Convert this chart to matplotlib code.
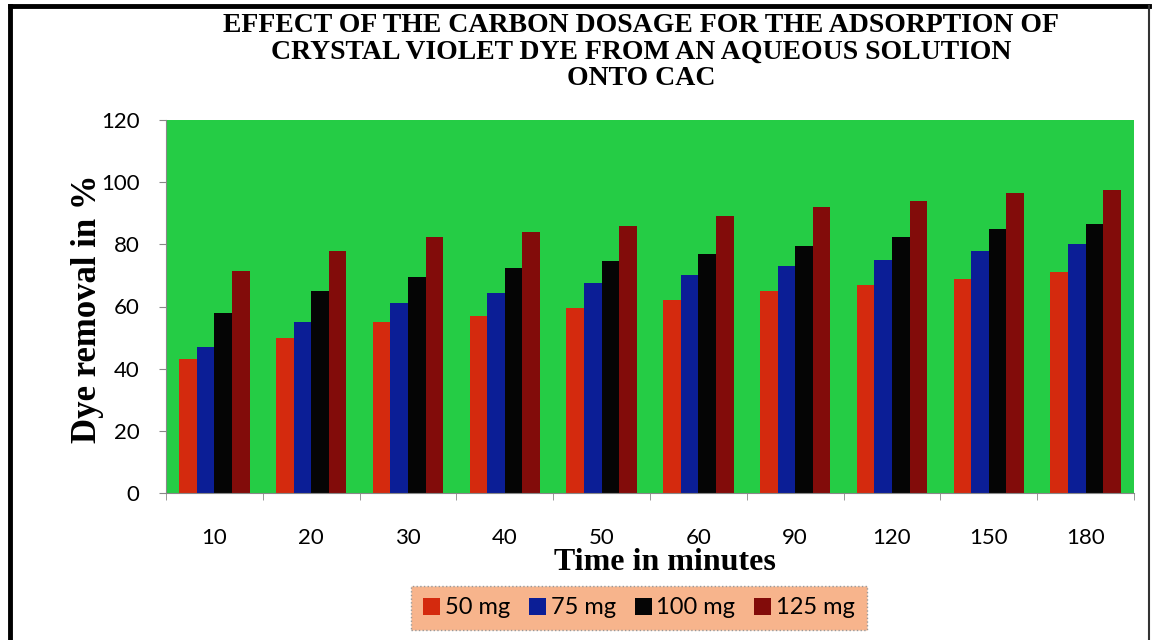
import numpy as np
import matplotlib.pyplot as plt
from matplotlib.lines import Line2D

# data
times = ['10', '20', '30', '40', '50', '60', '90', '120', '150', '180']
series_names = ['50 mg', '75 mg', '100 mg', '125 mg']
dose_50 = [43, 50, 55, 57, 59.5, 62, 65, 67, 69, 71]
dose_75 = [47, 55, 61, 64.5, 67.5, 70, 73, 75, 78, 80]
dose_100 = [58, 65, 69.5, 72.5, 74.5, 77, 79.5, 82.5, 85, 86.5]
dose_125 = [71.5, 78, 82.5, 84, 86, 89, 92, 94, 96.5, 97.5]
colors = ['#D42A0E', '#0B1E96', '#050505', '#820C0A']

W, H = 1152, 640
fig = plt.figure(figsize=(W / 100, H / 100), dpi=100)
fig.patch.set_facecolor('white')

ax = fig.add_axes([166 / W, 1 - 493 / H, 968 / W, 373 / H])
ax.set_facecolor('#25CC45')

x = np.arange(len(times))
bw = 1 / 5.5
for i, (vals, c, name) in enumerate(zip([dose_50, dose_75, dose_100, dose_125],
                                        colors, series_names)):
    ax.bar(x + (i - 1.5) * bw, vals, width=bw, color=c, label=name, zorder=2)

ax.set_xlim(-0.5, len(times) - 0.5)
ax.set_ylim(0, 120)
ax.set_yticks(range(0, 121, 20))
ax.set_xticks(x)
ax.set_xticklabels(times)
ax.set_xticks(np.arange(-0.5, len(times), 1), minor=True)
ax.tick_params(axis='x', which='major', length=0, pad=25, labelsize=16)
ax.tick_params(axis='x', which='minor', length=5, color='#888888')
ax.tick_params(axis='y', length=5, color='#888888', pad=14, labelsize=16)
for lab in ax.get_xticklabels() + ax.get_yticklabels():
    lab.set_family('Lato')
for s in ['top', 'right']:
    ax.spines[s].set_visible(False)
for s in ['left', 'bottom']:
    ax.spines[s].set_color('#888888')
    ax.spines[s].set_linewidth(0.8)

fig.text(88 / W, 1 - 309 / H, 'Dye removal in %', rotation=90, ha='center',
         va='center', family='Liberation Serif', fontweight='bold', fontsize=25)
fig.text(665 / W, 1 - 563 / H, 'Time in minutes', ha='center', va='center',
         family='Liberation Serif', fontweight='bold', fontsize=23)

fig.text(641 / W, 1 - 52 / H,
         'EFFECT OF THE CARBON DOSAGE FOR THE ADSORPTION OF\n'
         'CRYSTAL VIOLET DYE FROM AN AQUEOUS SOLUTION\nONTO CAC',
         ha='center', va='center', family='Liberation Serif', fontweight='bold',
         fontsize=20, linespacing=1.08)

leg = fig.legend(loc='center', bbox_to_anchor=(639 / W, 1 - 608 / H), ncol=4,
                 frameon=True, fancybox=False, facecolor='#F7B48C',
                 edgecolor='#999999', prop={'family': 'Lato', 'size': 17},
                 handlelength=0.72, handleheight=0.72, handletextpad=0.2,
                 columnspacing=0.8, borderpad=0.5, borderaxespad=0)
leg.get_frame().set_linestyle(':')
leg.get_frame().set_alpha(1)

# outer border of the chart
fig.add_artist(Line2D([10 / W, 10 / W], [0, 1 - 6 / H], color='black', lw=3.5,
                      transform=fig.transFigure))
fig.add_artist(Line2D([10 / W, 1149 / W], [1 - 6 / H, 1 - 6 / H], color='black',
                      lw=3.5, transform=fig.transFigure))
fig.add_artist(Line2D([1149 / W, 1149 / W], [0, 1 - 6 / H], color='#333333', lw=1.5,
                      transform=fig.transFigure))

fig.savefig('out.png', dpi=100)
